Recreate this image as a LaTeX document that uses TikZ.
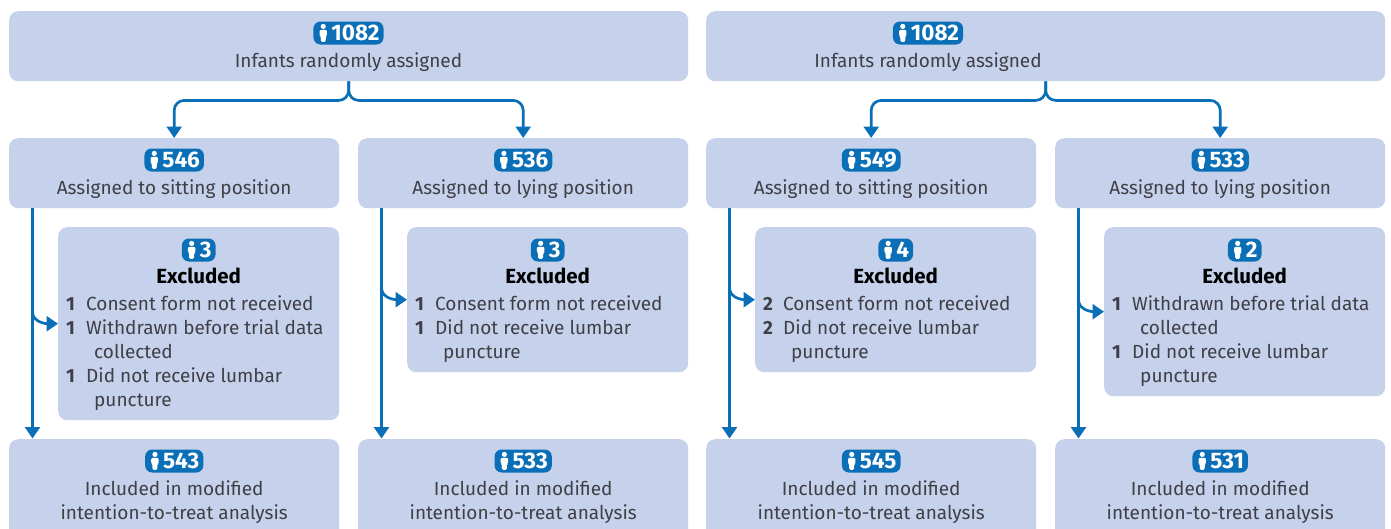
\documentclass[tikz,border=0pt]{standalone}
\usepackage{fontspec}
\setmainfont{Fira Sans}
\usetikzlibrary{calc}
\usetikzlibrary{arrows.meta}
\definecolor{boxblue}{HTML}{C6D2EC}
\definecolor{flowblue}{HTML}{0B6FB8}
\definecolor{txtgray}{HTML}{3F3F46}
\newcommand{\exitem}[2]{\makebox[20pt][l]{\bfseries #1}#2}
\newcommand{\exmore}[1]{\hspace*{28pt}#1}
\tikzset{
    panel/.style={fill=boxblue,rounded corners=9pt,anchor=north west,inner sep=0pt},
    lbl/.style={font=\fontsize{19}{24}\selectfont,text=txtgray,align=center,inner sep=0pt,anchor=north},
    exlist/.style={font=\fontsize{19}{24}\selectfont,text=txtgray,align=left,inner sep=0pt,anchor=north west},
    badge/.style={fill=flowblue,text=white,rounded corners=7pt,minimum height=23pt,inner xsep=4pt,inner ysep=0pt,font=\fontsize{22.5}{24}\selectfont\bfseries},
    flow/.style={draw=flowblue,line width=2.7pt,-{Triangle[width=15pt,length=11.5pt]}},
    person/.pic={
        \fill[white] (0,-6.6) circle (2.6pt);
        \fill[white,rounded corners=1.2pt] (-3.7,-3.2) -- (3.7,-3.2) -- (3.7,2.6) -- (2.6,2.6) -- (2.4,8.8) -- (-2.4,8.8) -- (-2.6,2.6) -- (-3.7,2.6) -- cycle;
    }
}
\begin{document}
\begin{tikzpicture}[x=1pt,y=-1pt]
    \useasboundingbox (0,0) rectangle (1391,528);
    % top boxes
    \foreach \t/\x/\tx in {topl/9/348.5,topr/706/928}{
        \node[panel,minimum width=679pt,minimum height=70pt] (\t) at (\x,11) {};
        \node[badge] (\t n) at (\tx,33) {\hspace*{14pt}1082};
        \path (\t n.west)+(10,0) pic {person};
        \node[lbl] (\t l) at (\tx,52) {Infants randomly assigned};
    };
    % one column per arm
    \foreach \c/\x/\nin/\pos/\nex/\h/\nout in {a/9/546/sitting/3/193/543,b/358/536/lying/3/145/533,c/706/549/sitting/4/145/545,d/1055/533/lying/2/169/531}{
        \node[panel,minimum width=330pt,minimum height=70pt] (arm\c) at (\x,138) {};
        \node[badge] (arm\c n) at ($(arm\c.north)+(0,22)$) {\hspace*{14pt}\nin};
        \path (arm\c n.west)+(10,0) pic {person};
        \node[lbl] (arm\c l) at ($(arm\c.north)+(0,41)$) {Assigned to \pos\ position};
        \node[panel,minimum width=281pt,minimum height=\h pt] (exc\c) at (\x+49,227) {};
        \node[badge] (exc\c n) at ($(exc\c.north)+(0,23)$) {\hspace*{14pt}\nex};
        \path (exc\c n.west)+(10,0) pic {person};
        \node[lbl,text=black,font=\fontsize{20.5}{24}\selectfont\bfseries] (exc\c t) at ($(exc\c.north)+(0,41)$) {Excluded};
        \node[panel,minimum width=330pt,minimum height=110pt] (inc\c) at (\x,439) {};
        \node[badge] (inc\c n) at ($(inc\c.north)+(0,22)$) {\hspace*{14pt}\nout};
        \path (inc\c n.west)+(10,0) pic {person};
        \node[lbl] (inc\c l) at ($(inc\c.north)+(0,41)$) {Included in modified\\intention-to-treat analysis};
        \coordinate (from\c) at ($(arm\c.south west)+(23.5,0)$);
        \coordinate (to\c) at ($(inc\c.north west)+(23.5,-0.5)$);
        \coordinate (bend\c) at ($(from\c |- exc\c.west)+(0,-12)$);
        \draw[flow] (from\c) -- (to\c);
        \draw[flow] (bend\c) to[out=270,in=180] (exc\c.west);
    };
    \foreach \t/\l/\r in {topl/a/b,topr/c/d}{
        \coordinate (\t j) at ($(\t.south)+(0,19)$);
        \draw[flow,rounded corners=10pt] (\t.south) -- (\t j) -| (arm\l.north);
        \draw[flow,rounded corners=10pt] (\t.south) -- (\t j) -| (arm\r.north);
    };
    % reasons
    \node[exlist] (lista) at ($(exca.north west)+(8,68)$) {\exitem{1}{Consent form not received}\\\exitem{1}{Withdrawn before trial data}\\\exmore{collected}\\\exitem{1}{Did not receive lumbar}\\\exmore{puncture}};
    \node[exlist] (listb) at ($(excb.north west)+(8,68)$) {\exitem{1}{Consent form not received}\\\exitem{1}{Did not receive lumbar}\\\exmore{puncture}};
    \node[exlist] (listc) at ($(excc.north west)+(8,68)$) {\exitem{2}{Consent form not received}\\\exitem{2}{Did not receive lumbar}\\\exmore{puncture}};
    \node[exlist] (listd) at ($(excd.north west)+(8,68)$) {\exitem{1}{Withdrawn before trial data}\\\exmore{collected}\\\exitem{1}{Did not receive lumbar}\\\exmore{puncture}};
\end{tikzpicture}
\end{document}
